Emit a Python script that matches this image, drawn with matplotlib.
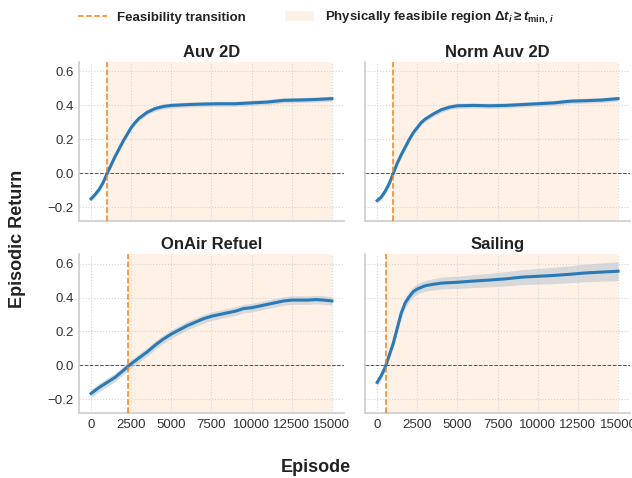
import matplotlib
matplotlib.use("Agg")
import matplotlib.pyplot as plt
from matplotlib.lines import Line2D
from matplotlib.patches import Patch
import numpy as np

plt.rcParams["font.family"] = ["Liberation Sans", "DejaVu Sans"]
plt.rcParams["mathtext.fontset"] = "custom"
plt.rcParams["mathtext.rm"] = "Liberation Sans:bold"
plt.rcParams["mathtext.it"] = "Liberation Sans:bold:italic"
plt.rcParams["mathtext.bf"] = "Liberation Sans:bold"

envs = ["Auv 2D", "Norm Auv 2D", "OnAir Refuel", "Sailing"]
transition = [1000, 1000, 2330, 520]

ep_auv = [0, 250, 500, 750, 1000, 1250, 1500, 1750, 2000, 2250, 2500, 2750, 3000, 3500, 4000,
          4500, 5000, 6000, 7000, 8000, 9000, 10000, 11000, 12000, 13000, 14000, 15000]
ret_auv = [-0.15, -0.125, -0.095, -0.055, 0.0, 0.05, 0.10, 0.145, 0.19, 0.23, 0.27, 0.30, 0.325,
           0.36, 0.382, 0.394, 0.40, 0.405, 0.408, 0.41, 0.41, 0.415, 0.42, 0.43, 0.432, 0.435, 0.44]
sd_auv = [0.015] * len(ep_auv)

ep_norm = [0, 250, 500, 750, 1000, 1250, 1500, 1750, 2000, 2250, 2500, 2750, 3000, 3500, 4000,
           4500, 5000, 6000, 7000, 8000, 9000, 10000, 11000, 12000, 13000, 14000, 15000]
ret_norm = [-0.16, -0.14, -0.105, -0.06, 0.0, 0.06, 0.11, 0.155, 0.20, 0.24, 0.27, 0.30, 0.32,
            0.35, 0.375, 0.39, 0.398, 0.40, 0.398, 0.40, 0.405, 0.41, 0.415, 0.425, 0.428, 0.432, 0.44]
sd_norm = [0.015] * len(ep_norm)

ep_onair = [0, 500, 1000, 1500, 2000, 2500, 3000, 3500, 4000, 4500, 5000, 5500, 6000, 6500, 7000,
            7500, 8000, 8500, 9000, 9500, 10000, 10500, 11000, 11500, 12000, 12500, 13000, 13500,
            14000, 14500, 15000]
ret_onair = [-0.165, -0.13, -0.10, -0.07, -0.03, 0.01, 0.045, 0.08, 0.12, 0.155, 0.185, 0.21, 0.235,
             0.255, 0.275, 0.29, 0.30, 0.31, 0.32, 0.335, 0.34, 0.35, 0.36, 0.37, 0.38, 0.385,
             0.385, 0.385, 0.388, 0.385, 0.38]
sd_onair = [0.025] * len(ep_onair)

ep_sail = [0, 250, 500, 750, 1000, 1250, 1500, 1750, 2000, 2250, 2500, 3000, 3500, 4000, 5000,
           6000, 7000, 8000, 9000, 10000, 11000, 12000, 13000, 14000, 15000]
ret_sail = [-0.10, -0.06, -0.01, 0.06, 0.13, 0.22, 0.31, 0.37, 0.405, 0.435, 0.45, 0.47, 0.478,
            0.485, 0.49, 0.497, 0.503, 0.51, 0.52, 0.525, 0.53, 0.537, 0.545, 0.55, 0.555]
sd_sail = [0.02, 0.02, 0.02, 0.02, 0.025, 0.025, 0.03, 0.03, 0.03, 0.03, 0.03, 0.032, 0.033,
           0.035, 0.036, 0.038, 0.04, 0.042, 0.044, 0.046, 0.048, 0.05, 0.052, 0.054, 0.056]

series = [(ep_auv, ret_auv, sd_auv), (ep_norm, ret_norm, sd_norm),
          (ep_onair, ret_onair, sd_onair), (ep_sail, ret_sail, sd_sail)]

LINE = "#2a7ab8"
ORANGE = "#ff7f0e"

fig, axes = plt.subplots(2, 2, figsize=(6.32, 4.78), dpi=100, sharex=True, sharey=True)
fig.subplots_adjust(left=0.125, right=0.997, top=0.870, bottom=0.136, wspace=0.08, hspace=0.21)

for ax, name, tr, (ep, ret, sd) in zip(axes.flat, envs, transition, series):
    ep = np.array(ep)
    ret = np.array(ret)
    sd = np.array(sd)
    ax.axvspan(tr, 15000, color=ORANGE, alpha=0.1, lw=0, zorder=0)
    ax.fill_between(ep, ret - sd, ret + sd, color="#c0cbd3", alpha=0.65, lw=0, zorder=2)
    ax.plot(ep, ret, color=LINE, lw=2.2, zorder=3)
    ax.axhline(0, color="#555555", ls="--", lw=0.7, zorder=1)
    ax.axvline(tr, color=ORANGE, ls="--", lw=1.1, zorder=4)
    ax.set_title(name, fontsize=12, fontweight="bold", color="#222222", pad=4)
    ax.set_ylim(-0.28, 0.655)
    ax.set_xlim(-750, 15750)
    ax.set_xticks([0, 2500, 5000, 7500, 10000, 12500, 15000])
    ax.set_yticks([-0.2, 0.0, 0.2, 0.4, 0.6])
    ax.grid(True, ls=":", color="#d5d5d5", lw=0.8, zorder=0)
    ax.set_axisbelow(True)
    for s in ["top", "right"]:
        ax.spines[s].set_visible(False)
    for s in ["left", "bottom"]:
        ax.spines[s].set_color("#cccccc")
        ax.spines[s].set_linewidth(1.2)
    ax.tick_params(length=0, labelsize=9.5, labelcolor="#333333", pad=4)

fig.supylabel("Episodic Return", fontsize=13, fontweight="bold", color="#222222", x=0.015)
fig.supxlabel("Episode", fontsize=13, fontweight="bold", color="#222222", y=0.005)

handles = [Line2D([0], [0], color=ORANGE, ls="--", lw=1.1),
           Patch(facecolor=ORANGE, alpha=0.1, edgecolor="none")]
labels = ["Feasibility transition",
          r"Physically feasibile region $\Delta t_i \geq t_{\mathrm{min},\, i}$"]
leg = fig.legend(handles, labels, loc="upper center", bbox_to_anchor=(0.5, 1.005), ncol=2,
                 frameon=False, fontsize=9.5, columnspacing=3, handlelength=2.2)
for t in leg.get_texts():
    t.set_fontweight("bold")
    t.set_color("#222222")

fig.savefig("out.png", dpi=100)
